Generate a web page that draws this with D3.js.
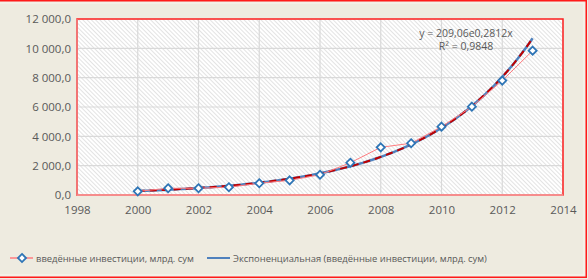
<!DOCTYPE html>
<html>
<head>
<meta charset="utf-8">
<script src="https://cdn.jsdelivr.net/npm/d3@7"></script>
<style>
  body { margin: 0; background: #eeebe0; }
  svg text { font-family: "Open Sans", "Noto Sans", sans-serif; fill: #595959; }
</style>
</head>
<body>
<svg id="chart"></svg>
<script>
// data
const years = [2000, 2001, 2002, 2003, 2004, 2005, 2006, 2007, 2008, 2009, 2010, 2011, 2012, 2013]
const investments = [250, 460, 460, 530, 800, 1000, 1380, 2200, 3250, 3530, 4660, 6020, 7800, 9840]
const xTicks = [1998, 2000, 2002, 2004, 2006, 2008, 2010, 2012, 2014]
const yTicks = [0, 2000, 4000, 6000, 8000, 10000, 12000]
const seriesName = 'введённые инвестиции, млрд. сум'
const trendName = 'Экспоненциальная (введённые инвестиции, млрд. сум)'
const equationLines = ['y = 209,06e0,2812x', 'R² = 0,9848']

const fullWidth = 588
const fullHeight = 279
const margin = { top: 19, right: 25, bottom: 84, left: 77 }
const width = fullWidth - margin.left - margin.right
const height = fullHeight - margin.top - margin.bottom

const svg = d3.select('#chart')
    .attr('width', fullWidth)
    .attr('height', fullHeight)

// outer frame (red on top, right and bottom only)
svg.append('path')
    .attr('d', `M0,0.75 H${fullWidth - 1.75} V${fullHeight - 1.75} H0`)
    .attr('fill', 'none')
    .attr('stroke', '#ff1a1a')
    .attr('stroke-width', 1.5)
svg.append('path')
    .attr('d', `M0,3 H${fullWidth - 4} V${fullHeight - 4} H0`)
    .attr('fill', 'none')
    .attr('stroke', '#f8f6f0')
    .attr('stroke-width', 1)

const defs = svg.append('defs')
const hatch = defs.append('pattern')
    .attr('id', 'hatch')
    .attr('patternUnits', 'userSpaceOnUse')
    .attr('width', 3).attr('height', 3)
    .attr('patternTransform', 'rotate(-45)')
hatch.append('rect').attr('width', 3).attr('height', 3).attr('fill', '#ffffff')
hatch.append('line')
    .attr('x1', 0.5).attr('y1', 0).attr('x2', 0.5).attr('y2', 3)
    .attr('stroke', '#e3e3e3').attr('stroke-width', 1)

const g = svg.append('g')
    .attr('transform', `translate(${margin.left}, ${margin.top})`)

const xScale = d3.scaleLinear().domain([1998, 2014]).range([0, width])
const yScale = d3.scaleLinear().domain([0, 12000]).range([height, 0])

g.append('rect')
    .attr('width', width).attr('height', height)
    .attr('fill', 'url(#hatch)')

// gridlines
g.append('g').selectAll('line')
    .data(yTicks)
    .enter().append('line')
    .attr('x1', 0).attr('x2', width)
    .attr('y1', d => yScale(d)).attr('y2', d => yScale(d))
    .attr('stroke', '#d9d9d9').attr('stroke-width', 1.2)

g.append('g').selectAll('line')
    .data(xTicks)
    .enter().append('line')
    .attr('x1', d => xScale(d)).attr('x2', d => xScale(d))
    .attr('y1', 0).attr('y2', height)
    .attr('stroke', '#d9d9d9').attr('stroke-width', 1.2)

// plot area border
g.append('rect')
    .attr('width', width).attr('height', height)
    .attr('fill', 'none')
    .attr('stroke', '#ff2020')
    .attr('stroke-width', 1.5)
g.append('line')
    .attr('x1', 0).attr('x2', width)
    .attr('y1', height).attr('y2', height)
    .attr('stroke', '#f4a0a0').attr('stroke-width', 1.5)
g.append('line')
    .attr('x1', 0).attr('x2', 0)
    .attr('y1', 0).attr('y2', height)
    .attr('stroke', '#f08080').attr('stroke-width', 1.5)

// axes
const yAxis = d3.axisLeft(yScale)
    .tickValues(yTicks)
    .tickSize(0)
    .tickPadding(6)
    .tickFormat(d => d3.format(',.1f')(d).replace(/,/g, ' ').replace('.', ','))
const xAxis = d3.axisBottom(xScale)
    .tickValues(xTicks)
    .tickSize(0)
    .tickPadding(11)
    .tickFormat(d3.format('d'))

g.append('g').attr('class', 'y-axis').call(yAxis)
g.append('g').attr('class', 'x-axis')
    .attr('transform', `translate(0, ${height})`)
    .call(xAxis)
g.selectAll('.domain').remove()
g.selectAll('.tick text')
    .style('font-size', '11.5px')
    .attr('fill', '#595959')

// exponential trend fitted from the data (least squares on ln y)
const idx = years.map((y, i) => i + 1)
const lny = investments.map(v => Math.log(v))
const mx = d3.mean(idx)
const my = d3.mean(lny)
const slope = d3.sum(idx, (x, i) => (x - mx) * (lny[i] - my)) / d3.sum(idx, x => (x - mx) ** 2)
const coef = Math.exp(my - slope * mx)
const trendPts = d3.range(1, years.length + 0.001, 0.1).map(x => [years[0] + x - 1, coef * Math.exp(slope * x)])

const line = d3.line()
    .x(d => xScale(d[0]))
    .y(d => yScale(d[1]))

g.append('path')
    .datum(trendPts)
    .attr('d', line)
    .attr('fill', 'none')
    .attr('stroke', '#4f81bd')
    .attr('stroke-width', 2.5)
g.append('path')
    .datum(trendPts)
    .attr('d', line)
    .attr('fill', 'none')
    .attr('stroke', '#c00000')
    .attr('stroke-width', 2)
    .attr('stroke-dasharray', '7,5')

// data series
const pts = years.map((y, i) => [y, investments[i]])
g.append('path')
    .datum(pts)
    .attr('d', line)
    .attr('fill', 'none')
    .attr('stroke', '#ff7c80')
    .attr('stroke-width', 1)

const diamond = d3.symbol().type(d3.symbolDiamond2).size(42)
g.append('g').selectAll('path')
    .data(pts)
    .enter().append('path')
    .attr('d', diamond)
    .attr('transform', d => `translate(${xScale(d[0])}, ${yScale(d[1])})`)
    .attr('fill', '#ffffff')
    .attr('stroke', '#2e75b6')
    .attr('stroke-width', 1.8)

// trend equation
g.append('text')
    .attr('x', 389).attr('y', 18)
    .attr('text-anchor', 'middle')
    .style('font-size', '10.5px')
    .selectAll('tspan')
    .data(equationLines)
    .enter().append('tspan')
    .attr('x', 389)
    .attr('dy', (d, i) => i === 0 ? 0 : 13)
    .text(d => d)

// legend
const legend = svg.append('g').attr('transform', 'translate(10, 258)')
legend.append('line')
    .attr('x1', 0).attr('x2', 23).attr('y1', 0).attr('y2', 0)
    .attr('stroke', '#ff7c80').attr('stroke-width', 1.5)
legend.append('path')
    .attr('d', diamond)
    .attr('transform', 'translate(12, 0)')
    .attr('fill', '#ffffff')
    .attr('stroke', '#2e75b6')
    .attr('stroke-width', 1.8)
legend.append('text')
    .attr('x', 26).attr('y', 4)
    .style('font-size', '9.4px')
    .text(seriesName)

legend.append('line')
    .attr('x1', 197).attr('x2', 220).attr('y1', 0).attr('y2', 0)
    .attr('stroke', '#4f81bd').attr('stroke-width', 2)
legend.append('text')
    .attr('x', 223).attr('y', 4)
    .style('font-size', '9.4px')
    .text(trendName)
</script>
</body>
</html>
